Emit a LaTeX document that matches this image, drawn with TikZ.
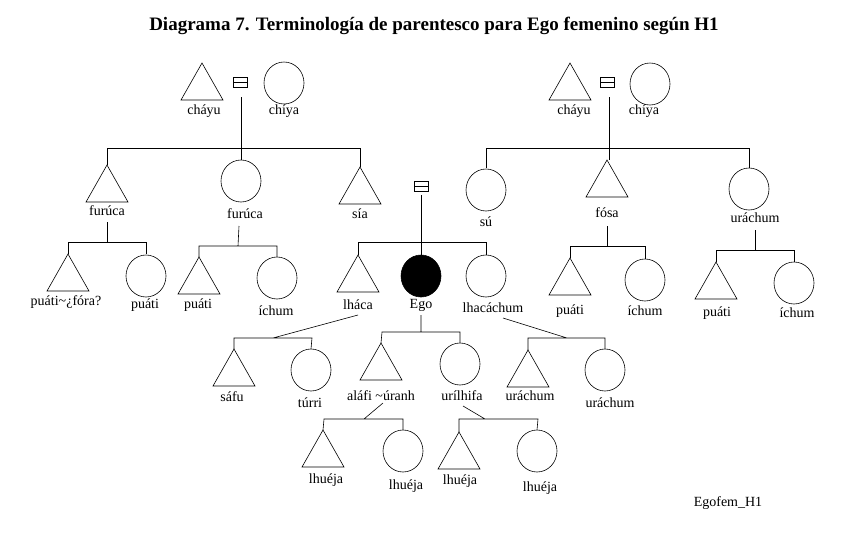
\documentclass[tikz,border=0pt]{standalone}
\usepackage{fontspec}
\setmainfont{Liberation Serif}
\newcommand\tri[3]{\coordinate (#1) at (#2,#3); \draw[sym] (#2,#3) -- ++(-21,37) -- ++(42,0) -- cycle;}
\newcommand\cir[4][white]{\coordinate (#2) at (#3,#4); \draw[sym,fill=#1] (#3,#4+21) ellipse [x radius=20pt,y radius=21pt];}
\newcommand\eqs[3]{\coordinate (#1) at (#2,#3); \draw[sym] (#2-7,#3-5) rectangle (#2+7,#3) (#2-7,#3) rectangle (#2+7,#3+5);}
\newcommand\lab[4]{\node[lbl] (#1) at (#2,#3) {#4};}
\begin{document}
\begin{tikzpicture}[x=1pt,y=-1pt,sym/.style={draw,line width=0.6pt},lbl/.style={font=\fontsize{14}{15}\selectfont,inner sep=0pt},ln/.style={line width=0.6pt}]
\useasboundingbox[fill=white] (0,0) rectangle (845,533);
\node[font=\fontsize{19}{21}\selectfont\bfseries] (title) at (434,26) {Diagrama 7. Terminología de parentesco para Ego femenino según H1};
% top left
\tri{a1}{202}{63}\lab{la1}{204}{111}{cháyu}
\eqs{e1}{240}{82}
\cir{a2}{284}{62}\lab{la2}{284}{111}{chíya}
\draw[ln] (241,97) -- (241,148) (107,165) -- (107,148) -- (360,148) -- (360,167) (241,148)--(241,160);
\tri{b1}{107}{165}\lab{lb1}{107}{211}{furúca}
\cir{b2}{241}{160}\lab{lb2}{245}{214}{furúca}
\tri{b3}{360}{167}\lab{lb3}{360}{214}{sía}
\draw[ln] (107,222)--(107,242) (68,254)--(68,242)--(146,242)--(146,254);
\tri{c1}{68}{254}\lab{lc1}{66}{302}{puáti\textasciitilde¿fóra?}
\cir{c2}{146}{255}\lab{lc2}{145}{305}{puáti}
\draw[ln] (239,226)--(238,246) (199,257)--(199,246)--(277,246)--(277,257);
\tri{c3}{199}{257}\lab{lc3}{198}{305}{puáti}
\cir{c4}{277}{257}\lab{lc4}{276}{311}{íchum}
% middle
\eqs{e2}{421}{186}
\draw[ln] (421,195)--(421,255) (358,255)--(358,242)--(486,242)--(486,255);
\tri{d1}{358}{255}\lab{ld1}{358}{305}{lháca}
\cir[black]{d2}{421}{255}\lab{ld2}{421}{305}{Ego}
\cir{d3}{486}{255}\lab{ld3}{493}{308}{lhacáchum}
% top right
\tri{a3}{570}{63}\lab{la3}{574}{111}{cháyu}
\eqs{e3}{607}{82}
\cir{a4}{650}{63}\lab{la4}{644}{111}{chíya}
\draw[ln] (609,97)--(609,160) (486,168)--(486,148)--(749,148)--(749,168);
\cir{f1}{486}{169}\lab{lf1}{486}{222}{sú}
\tri{f2}{607}{160}\lab{lf2}{607}{213}{fósa}
\cir{f3}{749}{168}\lab{lf3}{755}{218}{uráchum}
\draw[ln] (607,226)--(607,246) (570,258)--(570,246)--(645,246)--(645,259);
\tri{g1}{570}{258}\lab{lg1}{570}{311}{puáti}
\cir{g2}{645}{259}\lab{lg2}{645}{311}{íchum}
\draw[ln] (755,230)--(755,250) (716,262)--(716,250)--(794,250)--(794,262);
\tri{g3}{716}{262}\lab{lg3}{717}{313}{puáti}
\cir{g4}{794}{262}\lab{lg4}{797}{313}{íchum}
% lower
\draw[ln] (358,315)--(273,338) (234,349)--(234,338)--(312,338)--(311,349);
\tri{h1}{234}{349}\lab{lh1}{232}{397}{sáfu}
\cir{h2}{311}{349}\lab{lh2}{310}{403}{túrri}
\draw[ln] (421,315)--(421,332) (381,343)--(382,332)--(460,332)--(460,343);
\tri{h3}{381}{343}\lab{lh3}{381}{396}{aláfi \textasciitilde úranh}
\cir{h4}{460}{343}\lab{lh4}{462}{396}{urílhifa}
\draw[ln] (503,318)--(567,338) (528,350)--(528,338)--(605,338)--(605,349);
\tri{h5}{528}{350}\lab{lh5}{530}{396}{uráchum}
\cir{h6}{605}{349}\lab{lh6}{610}{403}{uráchum}
\draw[ln] (383,403)--(364,419) (323,430)--(324,419)--(403,419)--(403,430);
\tri{i1}{323}{430}\lab{li1}{326}{480}{lhuéja}
\cir{i2}{403}{430}\lab{li2}{406}{486}{lhuéja}
\draw[ln] (463,406)--(485,419) (459,432)--(459,419)--(538,419)--(537,430);
\tri{i3}{459}{432}\lab{li3}{460}{481}{lhuéja}
\cir{i4}{537}{430}\lab{li4}{540}{488}{lhuéja}
\node[lbl] (ef) at (728,503) {Egofem\_H1};
\end{tikzpicture}
\end{document}
